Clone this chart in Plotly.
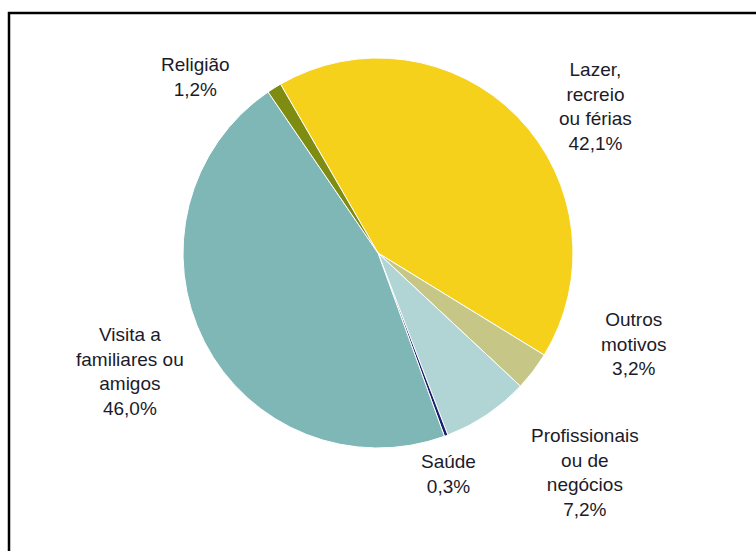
import plotly.graph_objects as go

# Data
categories = ["Lazer,<br>recreio<br>ou férias", "Outros<br>motivos", "Profissionais<br>ou de<br>negócios",
              "Saúde", "Visita a<br>familiares ou<br>amigos", "Religião"]
values = [42.1, 3.2, 7.2, 0.3, 46.0, 1.2]
colors = ["#F6D11B", "#C6C687", "#B1D5D5", "#1A1F70", "#7FB6B6", "#7F8C12"]

W, H = 756, 551
cx, cy, r = 378, 253, 195

fig = go.Figure(go.Pie(
    labels=categories,
    values=values,
    sort=False,
    direction="clockwise",
    rotation=-30,
    textinfo="none",
    hoverinfo="label+percent",
    marker=dict(colors=colors, line=dict(color="white", width=1)),
    domain=dict(x=[(cx - r) / W, (cx + r) / W], y=[1 - (cy + r) / H, 1 - (cy - r) / H]),
    showlegend=False,
))

# label positions (pixel centres)
label_pos = [(595, 106), (633, 344), (585, 472), (448, 474), (130, 371), (195, 77)]
annotations = []
for cat, val, (px, py) in zip(categories, values, label_pos):
    txt = f"{cat}<br>{val:.1f}%".replace(".", ",")
    annotations.append(dict(
        x=px / W, y=1 - py / H, xref="paper", yref="paper",
        text=txt, showarrow=False, align="center",
        xanchor="center", yanchor="middle",
        font=dict(family="Liberation Sans, Arial", size=19, color="#1b1b2a"),
    ))

fx0 = 9 / W
fy0 = 1 - 13 / H
fig.update_layout(
    width=W, height=H,
    margin=dict(l=0, r=0, t=0, b=0),
    paper_bgcolor="white",
    plot_bgcolor="white",
    annotations=annotations,
    shapes=[dict(type="path", xref="paper", yref="paper",
                 path=f"M {fx0},-0.1 L {fx0},{fy0} L 1.1,{fy0}",
                 line=dict(color="black", width=2.5))],
)

fig.write_html(
    "out.html",
    config={"displayModeBar": False},
    post_script="document.body.style.margin='0';document.body.style.overflow='hidden';",
)
